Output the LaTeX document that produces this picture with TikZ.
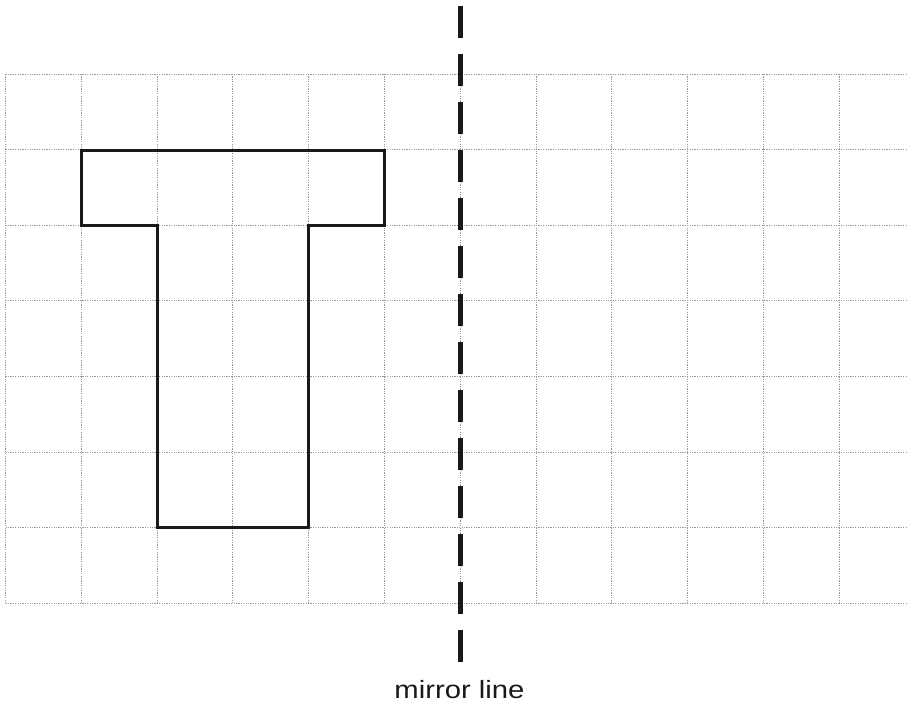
\documentclass[tikz,border=0pt]{standalone}
\usepackage{fontspec}
\setmainfont{Liberation Sans}
\begin{document}
\begin{tikzpicture}[x=1pt,y=-1pt,
  gridline/.style={draw=gray!80, line width=0.9pt, dash pattern=on 1.2pt off 1.2pt},
  shapeline/.style={draw=black!90, line width=3pt, line join=miter},
  mirrorline/.style={draw=black!90, line width=5pt, dash pattern=on 32pt off 16pt},
  labeltext/.style={font=\fontsize{25}{28}\selectfont, text=black!90, inner sep=0pt, anchor=base, xscale=1.17}]
\useasboundingbox (0,0) rectangle (908,704);
% grid
\foreach \i in {0,...,11} {
  \draw[gridline] ({5.5+75.8*\i},74) -- ({5.5+75.8*\i},603.5);
}
\foreach \j in {0,...,7} {
  \draw[gridline] (5.5,{74+75.64*\j}) -- (908,{74+75.64*\j});
}
% T shape
\coordinate (p1) at (81.3,150);
\coordinate (p2) at (384.5,150);
\coordinate (p3) at (384.5,225.5);
\coordinate (p4) at (308.7,225.5);
\coordinate (p5) at (308.7,527.5);
\coordinate (p6) at (157.1,527.5);
\coordinate (p7) at (157.1,225.5);
\coordinate (p8) at (81.3,225.5);
\draw[shapeline] (p1) -- (p2) -- (p3) -- (p4) -- (p5) -- (p6) -- (p7) -- (p8) -- cycle;
% mirror line
\coordinate (mtop) at (460,6);
\coordinate (mbot) at (460,662);
\draw[mirrorline] (mtop) -- (mbot);
\node[labeltext] (lbl) at (459.5,698.3) {mirror line};
\end{tikzpicture}
\end{document}
